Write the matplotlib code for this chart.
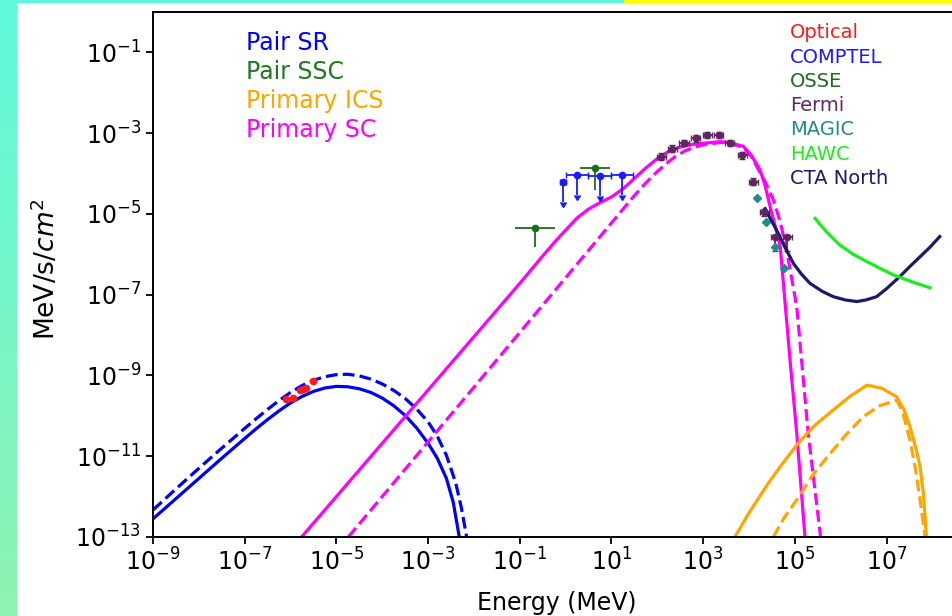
import matplotlib
matplotlib.use('Agg')
import matplotlib.pyplot as plt
import numpy as np
from matplotlib.patches import Rectangle

# model curves, log10(E / MeV) and log10(flux / MeV s^-1 cm^-2)
sr_solid_loge = [-9.0, -8.5, -8.0, -7.5, -7.0, -6.75, -6.5, -6.25, -6.0, -5.75, -5.5, -5.25, -5.0,
                 -4.75, -4.5, -4.25, -4.0, -3.75, -3.5, -3.25, -3.0, -2.8, -2.6, -2.45, -2.32]
sr_solid_logf = [-12.55, -12.05, -11.55, -11.05, -10.56, -10.32, -10.09, -9.875, -9.68, -9.52, -9.395, -9.31, -9.27,
                 -9.28, -9.33, -9.42, -9.56, -9.75, -9.99, -10.30, -10.68, -11.05, -11.55, -12.15, -13.0]
sr_dash_loge = [-9.0, -8.5, -8.0, -7.5, -7.0, -6.75, -6.5, -6.25, -6.0, -5.75, -5.5, -5.25, -5.0,
                -4.75, -4.5, -4.25, -4.0, -3.75, -3.5, -3.25, -3.0, -2.8, -2.6, -2.4, -2.27, -2.16]
sr_dash_logf = [-12.33, -11.81, -11.30, -10.80, -10.31, -10.07, -9.84, -9.62, -9.42, -9.25, -9.12, -9.03, -8.98,
                -8.97, -9.01, -9.09, -9.21, -9.37, -9.57, -9.83, -10.15, -10.50, -10.98, -11.65, -12.3, -13.0]

sc_solid_loge = [-5.76, -3.0, -1.0, -0.5, -0.25, 0.0, 0.25, 0.5, 0.75, 1.0, 1.25, 1.5, 1.75, 2.0, 2.25, 2.5,
                 2.75, 3.0, 3.37, 3.6, 3.88, 4.05, 4.24, 4.35, 4.46, 4.57, 4.68, 4.78, 4.90, 5.04, 5.22]
sc_solid_logf = [-13.0, -9.36, -6.72, -6.04, -5.71, -5.40, -5.10, -4.88, -4.72, -4.58, -4.38, -4.12, -3.86, -3.63, -3.45, -3.34,
                 -3.28, -3.25, -3.21, -3.24, -3.33, -3.55, -3.91, -4.30, -4.82, -5.30, -5.81, -7.13, -8.70, -10.43, -13.0]
sc_dash_loge = [-4.74, -2.0, 0.0, 1.48, 1.75, 2.0, 2.2, 2.4, 2.6, 2.8, 3.0, 3.37, 3.6, 3.88, 4.05, 4.17,
                4.35, 4.53, 4.68, 4.82, 4.93, 5.04, 5.29, 5.56]
sc_dash_logf = [-13.0, -9.29, -6.58, -4.57, -4.23, -3.95, -3.75, -3.57, -3.44, -3.35, -3.29, -3.23, -3.25, -3.36, -3.58, -3.83,
                -4.20, -4.65, -5.20, -5.89, -6.60, -7.30, -10.43, -13.0]

ics_solid_loge = [3.69, 4.0, 4.4, 4.75, 5.07, 5.45, 5.84, 6.2, 6.57, 6.9, 7.22, 7.38, 7.51, 7.65, 7.73, 7.80, 7.87]
ics_solid_logf = [-13.0, -12.4, -11.7, -11.15, -10.68, -10.22, -9.85, -9.52, -9.24, -9.32, -9.53, -9.85, -10.27, -10.85, -11.26, -11.9, -13.0]
ics_dash_loge = [4.53, 4.75, 5.04, 5.4, 5.77, 6.13, 6.49, 6.85, 7.22, 7.35, 7.51, 7.62, 7.73, 7.84]
ics_dash_logf = [-13.0, -12.55, -12.08, -11.45, -10.93, -10.45, -10.02, -9.75, -9.61, -9.9, -10.6, -11.25, -12.08, -13.0]

# observations
opt_loge = [-6.11, -5.94, -5.79, -5.72, -5.66, -5.50]
opt_logf = [-9.58, -9.55, -9.36, -9.33, -9.30, -9.13]

comptel_lo = [0.75, 1.0, 3.0, 10.0]
comptel_hi = [1.0, 3.0, 10.0, 30.0]
comptel_logf = [-4.20, -4.04, -4.06, -4.04]

osse_loge = [-0.67, 0.64]
osse_lo_loge = [-1.10, 0.31]
osse_hi_loge = [-0.23, 0.97]
osse_logf = [-5.36, -3.87]
osse_dn = [0.45, 0.54]
osse_up = [0.08, 0.08]

fermi_loge = [2.09, 2.33, 2.58, 2.84, 3.09, 3.34, 3.58, 3.85, 4.09, 4.33, 4.57, 4.83]
fermi_logf = [-3.58, -3.38, -3.24, -3.13, -3.04, -3.05, -3.24, -3.55, -4.20, -4.96, -5.56, -5.56]
fermi_dn = [0.08, 0.08, 0.08, 0.08, 0.08, 0.08, 0.08, 0.08, 0.08, 0.08, 0.35, 0.35]
fermi_up = [0.08, 0.08, 0.08, 0.08, 0.08, 0.08, 0.08, 0.08, 0.08, 0.08, 0.05, 0.05]

magic_loge = [4.18, 4.37, 4.56, 4.76]
magic_logf = [-4.61, -5.21, -5.81, -6.35]

cta_loge = [4.35, 4.47, 4.60, 4.78, 4.97, 5.15, 5.33, 5.6, 5.84, 6.1, 6.35, 6.55, 6.78, 7.0, 7.29, 7.5, 7.73, 7.95, 8.16]
cta_logf = [-4.87, -5.13, -5.40, -5.82, -6.23, -6.50, -6.72, -6.92, -7.05, -7.13, -7.17, -7.13, -7.05, -6.85, -6.55, -6.31, -6.06, -5.82, -5.56]

hawc_loge = [5.44, 5.7, 5.98, 6.27, 6.57, 6.86, 7.15, 7.55, 7.95]
hawc_logf = [-5.11, -5.46, -5.77, -6.0, -6.18, -6.35, -6.51, -6.68, -6.83]

model_names = ['Pair SR', 'Pair SSC', 'Primary ICS', 'Primary SC']
model_colors = ['#0000ff', '#1f7a1f', '#ffa500', '#ff00ff']
data_names = ['Optical', 'COMPTEL', 'OSSE', 'Fermi', 'MAGIC', 'HAWC', 'CTA North']
data_colors = ['#ff1a1a', '#1a1aff', '#1e6b1e', '#5e255e', '#23898a', '#1aee1a', '#1a1a6b']

p = lambda a: 10.0 ** np.asarray(a, dtype=float)

W, H = 953, 616
fig = plt.figure(figsize=(W / 100, H / 100), dpi=100)
fig.patch.set_facecolor('white')

# slide edges around the figure
strip = fig.add_axes([0, 0, 17 / W, 1])
grad = np.linspace(0, 1, 256)[:, None, None]
top_c = np.array([0.37, 0.98, 0.86])
bot_c = np.array([0.56, 0.95, 0.70])
strip.imshow(top_c * (1 - grad) + bot_c * grad, aspect='auto', extent=[0, 1, 0, 1])
strip.axis('off')
fig.patches.append(Rectangle((17 / W, 1 - 2 / H), (624 - 17) / W, 2 / H,
                             transform=fig.transFigure, color='#5ef5dc', zorder=0))
fig.patches.append(Rectangle((624 / W, 1 - 3 / H), (W - 624) / W, 3 / H,
                             transform=fig.transFigure, color='#ffff00', zorder=0))

xmin_log, xmax_log = -9, 8.6
px_dec = 45.85
ax = fig.add_axes([153 / W, 79 / H, (xmax_log - xmin_log) * px_dec / W, 525 / H])

lw = 2.3
ax.plot(p(sr_solid_loge), p(sr_solid_logf), color=model_colors[0], lw=lw)
ax.plot(p(sr_dash_loge), p(sr_dash_logf), color=model_colors[0], lw=lw, ls='--')
ax.plot(p(sc_solid_loge), p(sc_solid_logf), color=model_colors[3], lw=lw)
ax.plot(p(sc_dash_loge), p(sc_dash_logf), color=model_colors[3], lw=lw, ls='--')
ax.plot(p(ics_solid_loge), p(ics_solid_logf), color=model_colors[2], lw=lw)
ax.plot(p(ics_dash_loge), p(ics_dash_logf), color=model_colors[2], lw=lw, ls='--')

ax.plot(p(opt_loge), p(opt_logf), 'o', color=data_colors[0], ms=4.5)

# COMPTEL upper limits over their energy bands
c_lo = np.array(comptel_lo)
c_hi = np.array(comptel_hi)
c_e = np.sqrt(c_lo * c_hi)
c_f = p(comptel_logf)
ax.errorbar(c_e, c_f, xerr=[c_e - c_lo, c_hi - c_e], yerr=c_f * (1 - 10 ** -0.5),
            uplims=True, fmt='o', color=data_colors[1], ms=4.5, lw=1.3, capsize=2.5)

o_e = p(osse_loge)
o_f = p(osse_logf)
ax.errorbar(o_e, o_f, xerr=[o_e - p(osse_lo_loge), p(osse_hi_loge) - o_e],
            yerr=[o_f * (1 - p(-np.array(osse_dn))), o_f * (p(osse_up) - 1)],
            fmt='o', color=data_colors[2], ms=4.5, lw=1.3)

f_e = p(fermi_loge)
f_f = p(fermi_logf)
ax.errorbar(f_e, f_f, xerr=[f_e * (1 - 10 ** -0.1), f_e * (10 ** 0.1 - 1)],
            yerr=[f_f * (1 - p(-np.array(fermi_dn))), f_f * (p(fermi_up) - 1)],
            fmt='o', color=data_colors[3], ms=4.5, lw=1.3, capsize=2)

ax.plot(p(magic_loge), p(magic_logf), 'D', color=data_colors[4], ms=4.5)
ax.plot(p(cta_loge), p(cta_logf), color=data_colors[6], lw=lw)
ax.plot(p(hawc_loge), p(hawc_logf), color=data_colors[5], lw=lw)

ax.set_xscale('log')
ax.set_yscale('log')
ax.set_xlim(10.0 ** xmin_log, 10.0 ** xmax_log)
ax.set_ylim(1e-13, 1e0)
ax.set_xticks([10.0 ** k for k in range(-9, 9, 2)])
ax.set_yticks([10.0 ** k for k in range(-13, 0, 2)])
ax.minorticks_off()
ax.tick_params(labelsize=17, length=5, width=1.3)
for s in ax.spines.values():
    s.set_linewidth(1.4)

ax.set_xlabel('Energy (MeV)', fontsize=17)
ax.set_ylabel(r'MeV/s/$cm^2$', fontsize=19)
ax.xaxis.set_label_coords(0.5, -0.103)
ax.yaxis.set_label_coords(-0.114, 0.51)

for i, (name, col) in enumerate(zip(model_names, model_colors)):
    fig.text(246 / W, 1 - (43 + 29 * i) / H, name, color=col, fontsize=17, va='center', ha='left')
for i, (name, col) in enumerate(zip(data_names, data_colors)):
    fig.text(790 / W, 1 - (33 + 24.2 * i) / H, name, color=col, fontsize=14, va='center', ha='left')

fig.savefig('out.png', dpi=100)
